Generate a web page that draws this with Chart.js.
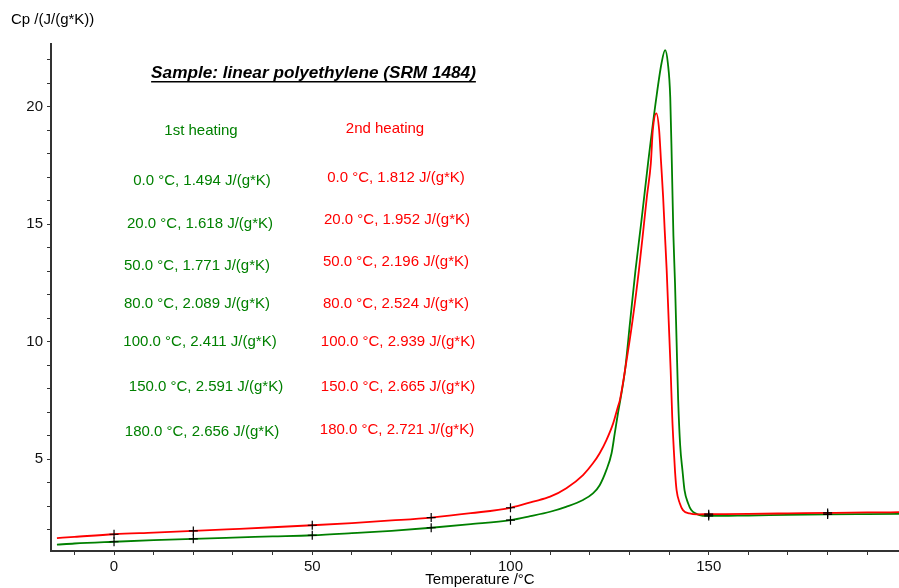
<!DOCTYPE html>
<html>
<head>
<meta charset="utf-8">
<title>Cp linear polyethylene</title>
<script src="https://cdn.jsdelivr.net/npm/chart.js@4.4.0/dist/chart.umd.min.js"></script>
<style>
    html, body { margin: 0; padding: 0; background: #fff; overflow: hidden; }
    #wrap { width: 899px; height: 588px; position: relative; }
</style>
</head>
<body>
<div id="wrap"><canvas id="cpChart"></canvas></div>
<script>
// 1st heating curve (green)
var temps1 = [-14.4, -10, 0, 10, 20, 30, 40, 50, 60, 70, 80, 90, 100, 105, 110, 114, 118.3, 120.8, 122.5, 124.2, 125.5, 126.3, 127.1, 127.7, 128.9, 130.2, 131.5, 133, 134.7, 136.8, 138.1, 139, 139.7, 140.3, 140.7, 141.1, 141.5, 141.9, 142.3, 142.8, 143.4, 143.9, 144.8, 145.6, 146.9, 148.5, 150, 160, 170, 180, 190, 198];
var cp1 = [1.37, 1.42, 1.494, 1.56, 1.618, 1.67, 1.72, 1.771, 1.86, 1.96, 2.089, 2.24, 2.411, 2.58, 2.77, 2.98, 3.27, 3.55, 3.9, 4.55, 5.26, 6.1, 6.95, 7.52, 8.8, 10.9, 13.0, 15.1, 17.6, 20.4, 21.85, 22.41, 21.85, 20.4, 17.6, 14.5, 12.5, 10.0, 7.5, 5.6, 4.5, 3.69, 3.13, 2.84, 2.68, 2.6, 2.591, 2.61, 2.635, 2.656, 2.67, 2.68];

// 2nd heating curve (red)
var temps2 = [-14.4, -10, 0, 10, 20, 30, 40, 50, 60, 70, 80, 90, 100, 105.7, 110, 114.1, 118.3, 120.8, 122.5, 124.2, 125.9, 127.1, 127.6, 128.9, 130.8, 132.4, 133.6, 134.4, 135.4, 135.9, 136.8, 137.5, 138, 138.5, 138.9, 139.4, 139.9, 140.4, 140.8, 141.2, 141.5, 141.9, 142.7, 143.5, 145.2, 147, 150, 160, 170, 180, 190, 198];
var cp2 = [1.65, 1.70, 1.812, 1.88, 1.952, 2.03, 2.11, 2.196, 2.29, 2.40, 2.524, 2.71, 2.939, 3.2, 3.41, 3.77, 4.33, 4.83, 5.26, 5.82, 6.53, 7.24, 7.52, 8.8, 10.92, 13.05, 14.9, 16.17, 17.59, 19.0, 19.72, 19.0, 17.59, 16.17, 14.75, 13.05, 10.92, 8.8, 6.8, 5.4, 4.5, 3.69, 3.13, 2.84, 2.70, 2.66, 2.665, 2.68, 2.70, 2.721, 2.74, 2.75];

// evaluated points (crosses + text list)
var markTemps = [0, 20, 50, 80, 100, 150, 180];
var markCp1 = [1.494, 1.618, 1.771, 2.089, 2.411, 2.591, 2.656];
var markCp2 = [1.812, 1.952, 2.196, 2.524, 2.939, 2.665, 2.721];

var xTickStep = 10, xLabelStep = 50;
var yTickStep = 1, yLabelStep = 5;

// text placement (pixel centers)
var rowPos1 = [[202, 181], [200, 224], [197, 266], [197, 304], [200, 342], [206, 387], [202, 432]];
var rowPos2 = [[396, 178], [397, 220], [396, 262], [396, 304], [398, 342], [398, 387], [397, 430]];

var GREEN = '#008000';
var RED = '#ff0000';
var FONT = '"Liberation Sans", Arial, sans-serif';

function toXY(xs, ys) {
    var out = [];
    for (var i = 0; i < xs.length; i++) {
        out.push({ x: xs[i], y: ys[i] });
    }
    return out;
}

function rowText(t, v) {
    return t.toFixed(1) + ' \u00B0C, ' + v.toFixed(3) + ' J/(g*K)';
}

var textPlugin = {
    id: 'cpText',
    afterDraw: function(chart) {
        var c = chart.ctx;
        c.save();
        c.textBaseline = 'middle';

        // axis titles
        c.fillStyle = '#000';
        c.font = '15px ' + FONT;
        c.textAlign = 'left';
        c.fillText('Cp /(J/(g*K))', 11, 20);
        c.textAlign = 'center';
        c.fillText('Temperature /\u00B0C', 480, 580);

        // sample title, underlined
        var title = 'Sample: linear polyethylene (SRM 1484)';
        c.font = 'bold italic 17.2px ' + FONT;
        c.fillText(title, 313.5, 73);
        var w = c.measureText(title).width;
        c.fillRect(313.5 - w / 2, 81, w, 1.5);

        c.font = '15px ' + FONT;
        c.fillStyle = GREEN;
        c.fillText('1st heating', 201, 131);
        for (var i = 0; i < markTemps.length; i++) {
            c.fillText(rowText(markTemps[i], markCp1[i]), rowPos1[i][0], rowPos1[i][1]);
        }
        c.fillStyle = RED;
        c.fillText('2nd heating', 385, 129);
        for (var j = 0; j < markTemps.length; j++) {
            c.fillText(rowText(markTemps[j], markCp2[j]), rowPos2[j][0], rowPos2[j][1]);
        }
        c.restore();
    }
};

var ctx = document.getElementById('cpChart');

new Chart(ctx.getContext('2d'), {
    type: 'scatter',
    data: {
        datasets: [{
            label: 'marks 2nd',
            data: toXY(markTemps, markCp2),
            pointStyle: 'cross',
            pointRadius: 4.5,
            borderColor: '#000',
            backgroundColor: '#000',
            borderWidth: 1.2,
            showLine: false
        }, {
            label: 'marks 1st',
            data: toXY(markTemps, markCp1),
            pointStyle: 'cross',
            pointRadius: 4.5,
            borderColor: '#000',
            backgroundColor: '#000',
            borderWidth: 1.2,
            showLine: false
        }, {
            label: '2nd heating',
            data: toXY(temps2, cp2),
            showLine: true,
            borderColor: RED,
            borderWidth: 1.8,
            pointRadius: 0,
            cubicInterpolationMode: 'monotone',
            fill: false
        }, {
            label: '1st heating',
            data: toXY(temps1, cp1),
            showLine: true,
            borderColor: GREEN,
            borderWidth: 1.8,
            pointRadius: 0,
            cubicInterpolationMode: 'monotone',
            fill: false
        }]
    },
    options: {
        responsive: true,
        maintainAspectRatio: false,
        animation: false,
        layout: {
            autoPadding: false,
            padding: { left: 0, right: 0, top: 44, bottom: 0 }
        },
        scales: {
            x: {
                type: 'linear',
                min: -15.9,
                max: 198,
                afterFit: function(scale) { scale.height = 37; },
                grid: {
                    drawOnChartArea: false,
                    color: '#333',
                    tickLength: 4
                },
                border: { color: '#333', width: 2 },
                ticks: {
                    stepSize: xTickStep,
                    includeBounds: false,
                    autoSkip: false,
                    maxRotation: 0,
                    padding: 3,
                    color: '#111',
                    font: { family: FONT, size: 15 },
                    callback: function(value) {
                        return Math.abs(value % xLabelStep) < 1e-6 ? value : '';
                    }
                }
            },
            y: {
                type: 'linear',
                min: 1.1,
                max: 22.67,
                afterFit: function(scale) { scale.width = 51; },
                grid: {
                    drawOnChartArea: false,
                    color: '#333',
                    tickLength: 4
                },
                border: { color: '#333', width: 2 },
                ticks: {
                    stepSize: yTickStep,
                    includeBounds: false,
                    autoSkip: false,
                    padding: 4,
                    color: '#111',
                    font: { family: FONT, size: 15 },
                    callback: function(value) {
                        return Math.abs(value % yLabelStep) < 1e-6 ? value : '';
                    }
                }
            }
        },
        plugins: {
            legend: { display: false },
            tooltip: { enabled: false }
        }
    },
    plugins: [textPlugin]
});
</script>
</body>
</html>
